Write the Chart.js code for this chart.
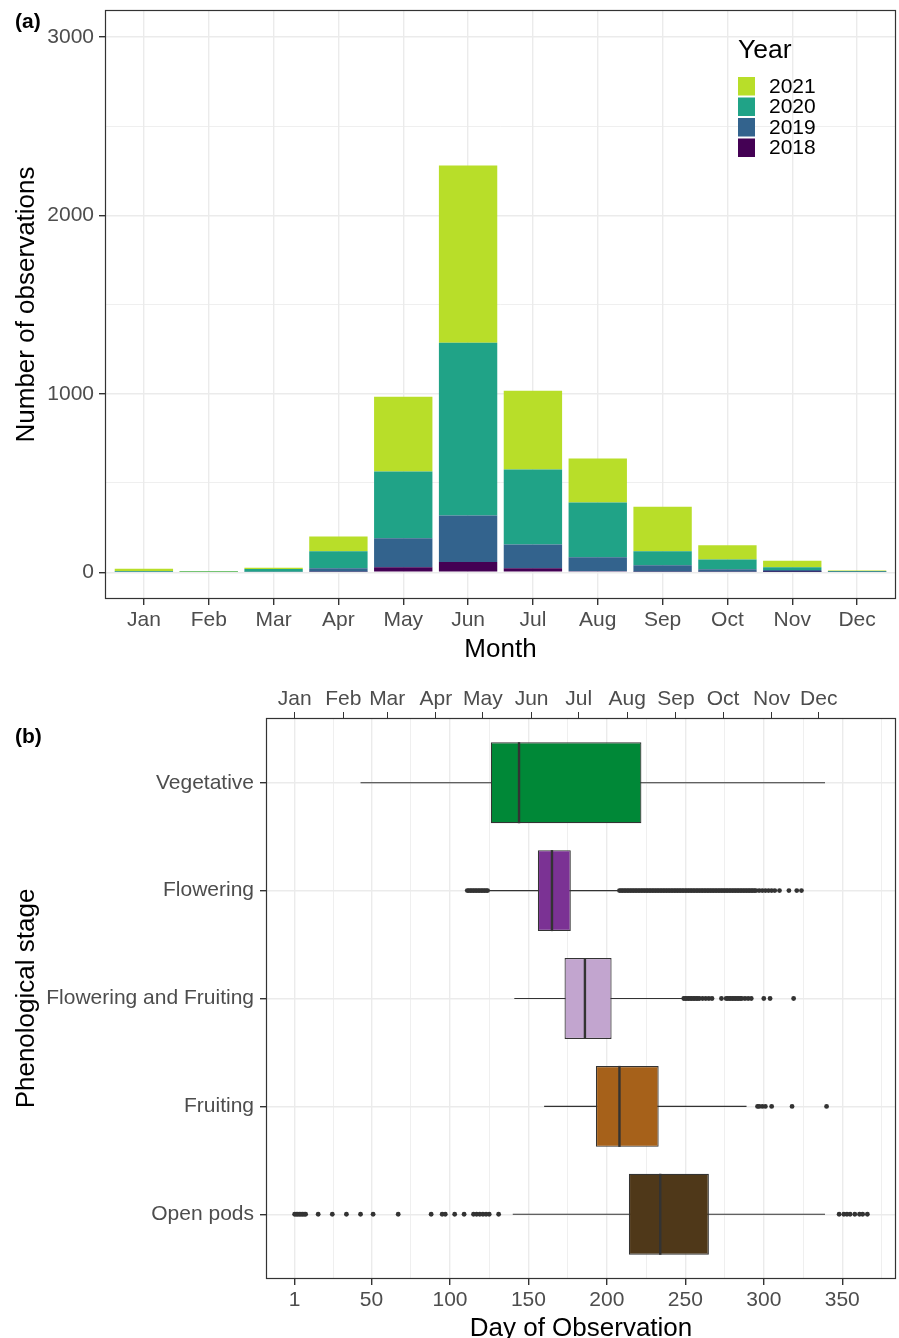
<!DOCTYPE html>
<html>
<head>
<meta charset="utf-8">
<script src="https://cdn.jsdelivr.net/npm/chart.js@4.4.0/dist/chart.umd.min.js"></script>
<style>
body { margin: 0; background: #fff; overflow: hidden; width: 899px; height: 1338px; position: relative; font-family: "Liberation Sans", Arial, sans-serif; }
canvas { position: absolute; left: 0; }
#topChart { top: 0; }
#bottomChart { top: 670px; }
.tag { position: absolute; left: 15px; font-weight: bold; font-size: 21px; line-height: 1; }
</style>
</head>
<body>
<canvas id="topChart" width="899" height="670"></canvas>
<canvas id="bottomChart" width="899" height="680"></canvas>
<div class="tag" style="top:10px">(a)</div>
<div class="tag" style="top:725px">(b)</div>
<script>
// ---- panel (a) data ----
const months = ['Jan', 'Feb', 'Mar', 'Apr', 'May', 'Jun', 'Jul', 'Aug', 'Sep', 'Oct', 'Nov', 'Dec'];
const years = ['2018', '2019', '2020', '2021'];
const obs2018 = [0, 0, 0, 2, 28, 58, 22, 5, 2, 2, 1, 0];
const obs2019 = [2, 0, 3, 20, 162, 260, 134, 79, 37, 15, 12, 1];
const obs2020 = [5, 1, 15, 95, 374, 967, 419, 307, 78, 54, 15, 5];
const obs2021 = [12, 4, 7, 83, 419, 994, 442, 246, 250, 80, 37, 4];
const countTicks = [0, 500, 1000, 1500, 2000, 2500, 3000];
const yearColors = ['#440154', '#33638D', '#20A387', '#B8DE29'];

// ---- panel (b) data ----
const stages = ['Vegetative', 'Flowering', 'Flowering and Fruiting', 'Fruiting', 'Open pods'];
const whiskerLow = [43, 125, 141, 160, 140];
const q1 = [126, 156, 173, 193, 214];
const medians = [144, 165, 186, 208, 234];
const q3 = [222, 177, 203, 233, 265];
const whiskerHigh = [339, 208, 248, 289, 339];
const outVegetative = [];
const outFlowering = [111, 112, 113, 114, 115, 116, 117, 118, 119, 120, 121, 122, 123, 124,
  208, 209, 210, 211, 212, 213, 214, 215, 216, 217, 218, 219, 220, 221, 222, 223, 224, 225,
  226, 227, 228, 229, 230, 231, 232, 233, 234, 235, 236, 237, 238, 239, 240, 241, 242, 243,
  244, 245, 246, 247, 248, 249, 250, 251, 252, 253, 254, 255, 256, 257, 258, 259, 260, 261,
  262, 263, 264, 265, 266, 267, 268, 269, 270, 271, 272, 273, 274, 275, 276, 277, 278, 279,
  280, 281, 282, 283, 284, 285, 286, 287, 288, 289, 290, 291, 292, 293, 294, 295,
  297, 299, 301, 303, 305, 307, 310, 316, 321, 324];
const outFlowFruit = [249, 250, 251, 252, 253, 254, 255, 256, 257, 258, 259, 261, 263, 265, 267,
  273, 276, 277, 278, 279, 280, 281, 282, 283, 284, 285, 286, 288, 290, 292, 300, 304, 319];
const outFruiting = [296, 297, 299, 301, 305, 318, 340];
const outOpenPods = [1, 2, 3, 4, 5, 6, 7, 8, 16, 25, 34, 43, 51, 67, 88, 95, 97, 103, 109,
  115, 117, 119, 121, 123, 125, 131, 348, 351, 353, 355, 358, 361, 363, 366];
const monthStartDays = [1, 32, 60, 91, 121, 152, 182, 213, 244, 274, 305, 335];
const dayTicks = [1, 50, 100, 150, 200, 250, 300, 350];
const dayMinorTicks = [25.5, 75, 125, 175, 225, 275, 325, 375];
const stageColors = ['#008837', '#7B3294', '#C2A5CF', '#A6611A', '#4F3819'];

Chart.defaults.font.family = '"Liberation Sans", Arial, sans-serif';
Chart.defaults.animation = false;
Chart.defaults.plugins.legend.display = false;
Chart.defaults.plugins.tooltip.enabled = false;

const tickFont = { size: 21 };
const titleFont = { size: 26, lineHeight: 1.2 };
const TICK_GREY = '#4D4D4D';
const GRID = '#EBEBEB';
const DARK = '#333333';

// pin the axis box to a fixed size and drop chart.js' label overhang padding
function fixBox(prop, size) {
  return s => {
    s[prop] = size;
    s.paddingTop = 0; s.paddingBottom = 0; s.paddingLeft = 0; s.paddingRight = 0;
  };
}

// dark frame round the plotting panel, as in theme_bw
const panelBorder = {
  id: 'panelBorder',
  afterDraw(chart) {
    const a = chart.chartArea, c = chart.ctx;
    c.save();
    c.strokeStyle = DARK;
    c.lineWidth = 1.2;
    c.strokeRect(a.left + 0.5, a.top + 0.5, a.width - 1, a.height - 1);
    c.restore();
  }
};

// legend inside panel (a), newest year on top
const yearLegend = {
  id: 'yearLegend',
  afterDraw(chart) {
    const c = chart.ctx;
    c.save();
    c.fillStyle = '#000';
    c.textBaseline = 'middle';
    c.font = '26.5px "Liberation Sans", Arial, sans-serif';
    c.fillText('Year', 738, 51);
    c.font = '21px "Liberation Sans", Arial, sans-serif';
    const ds = chart.data.datasets.slice().reverse();
    ds.forEach((d, i) => {
      const y = 77 + i * 20.5;
      c.fillStyle = d.backgroundColor;
      c.fillRect(738, y, 17, 18.5);
      c.fillStyle = '#000';
      c.fillText(d.label, 769, y + 10);
    });
    c.restore();
  }
};

const yearCounts = [obs2018, obs2019, obs2020, obs2021];

const topChart = new Chart(document.getElementById('topChart'), {
  type: 'bar',
  data: {
    datasets: years.map((yr, k) => ({
      label: yr,
      data: yearCounts[k].map((v, i) => ({ x: i + 1, y: v })),
      backgroundColor: yearColors[k],
      categoryPercentage: 0.9,
      barPercentage: 1,
      borderWidth: 0
    }))
  },
  options: {
    responsive: false,
    layout: { autoPadding: false, padding: { top: 10, right: 3, left: 0, bottom: 0 } },
    scales: {
      x: {
        type: 'linear',
        min: 0.4,
        max: 12.6,
        offset: false,
        stacked: true,
        afterBuildTicks: s => { s.ticks = months.map((m, i) => ({ value: i + 1 })); },
        afterFit: fixBox('height', 71),
        ticks: { callback: (v, i) => months[i], font: tickFont, color: TICK_GREY, autoSkip: false, maxRotation: 0, padding: 3 },
        grid: { offset: false, color: GRID, lineWidth: 1.4, tickColor: DARK, tickLength: 6 },
        border: { display: false },
        title: { display: true, text: 'Month', font: titleFont, color: '#000', padding: { top: 0, bottom: 5 } }
      },
      y: {
        type: 'linear',
        min: -150,
        max: 3150,
        offset: false,
        stacked: true,
        afterBuildTicks: s => { s.ticks = countTicks.map(v => ({ value: v })); },
        afterFit: fixBox('width', 105),
        ticks: { callback: v => (v % 1000 === 0 ? String(v) : ''), font: tickFont, color: TICK_GREY, padding: 5 },
        grid: {
          offset: false,
          color: GRID,
          lineWidth: ctx => (ctx.tick && ctx.tick.value % 1000 === 0 ? 1.4 : 0.8),
          tickColor: ctx => (ctx.tick && ctx.tick.value % 1000 === 0 ? DARK : 'rgba(0,0,0,0)'),
          tickLength: 6
        },
        border: { display: false },
        title: { display: true, text: 'Number of observations', font: titleFont, color: '#000', padding: { top: 11, bottom: 0 } }
      }
    }
  },
  plugins: [panelBorder, yearLegend]
});

const outlierLists = [outVegetative, outFlowering, outFlowFruit, outFruiting, outOpenPods];
const isMajorDay = v => dayTicks.includes(v);

const bottomChart = new Chart(document.getElementById('bottomChart'), {
  type: 'bar',
  data: {
    datasets: [
      {
        type: 'bar',
        label: 'box',
        indexAxis: 'y',
        grouped: false,
        data: stages.map((s, i) => ({ y: i + 1, x: [q1[i], q3[i]] })),
        backgroundColor: stageColors,
        borderColor: DARK,
        borderWidth: 1.2,
        borderSkipped: false,
        categoryPercentage: 0.75,
        barPercentage: 1,
        order: 2
      },
      {
        type: 'bar',
        label: 'whisker',
        indexAxis: 'y',
        grouped: false,
        data: stages.map((s, i) => ({ y: i + 1, x: [whiskerLow[i], whiskerHigh[i]] })),
        backgroundColor: DARK,
        maxBarThickness: 1.2,
        order: 3
      },
      {
        type: 'scatter',
        label: 'median',
        data: medians.map((m, i) => ({ x: m, y: i + 1 })),
        pointStyle: 'line',
        pointRotation: 90,
        pointRadius: 40.5,
        pointBorderWidth: 2.4,
        pointBorderColor: DARK,
        order: 1
      },
      {
        type: 'scatter',
        label: 'outliers',
        data: outlierLists.flatMap((list, i) => list.map(d => ({ x: d, y: i + 1 }))),
        pointRadius: 2.4,
        pointBackgroundColor: DARK,
        pointBorderWidth: 0,
        order: 0
      }
    ]
  },
  options: {
    responsive: false,
    layout: { autoPadding: false, padding: { top: 0, right: 3, left: 0, bottom: 0 } },
    scales: {
      x: {
        type: 'linear',
        position: 'bottom',
        min: -17.25,
        max: 384.25,
        offset: false,
        beginAtZero: false,
        afterBuildTicks: s => { s.ticks = dayTicks.concat(dayMinorTicks).sort((a, b) => a - b).map(v => ({ value: v })); },
        afterFit: fixBox('height', 71),
        ticks: { callback: v => (isMajorDay(v) ? String(v) : ''), font: tickFont, color: TICK_GREY, autoSkip: false, maxRotation: 0, padding: 3 },
        grid: {
          offset: false,
          color: GRID,
          lineWidth: ctx => (ctx.tick && isMajorDay(ctx.tick.value) ? 1.4 : 0.8),
          tickColor: ctx => (ctx.tick && isMajorDay(ctx.tick.value) ? DARK : 'rgba(0,0,0,0)'),
          tickLength: 6
        },
        border: { display: false },
        title: { display: true, text: 'Day of Observation', font: titleFont, color: '#000', padding: { top: 0, bottom: 6 } }
      },
      x2: {
        axis: 'x',
        type: 'linear',
        position: 'top',
        min: -17.25,
        max: 384.25,
        offset: false,
        afterBuildTicks: s => { s.ticks = monthStartDays.map(v => ({ value: v })); },
        afterFit: fixBox('height', 48),
        ticks: { callback: (v, i) => months[i], font: tickFont, color: TICK_GREY, autoSkip: false, maxRotation: 0, padding: 0 },
        grid: { offset: false, drawOnChartArea: false, tickColor: DARK, tickLength: 6 },
        border: { display: false }
      },
      y: {
        type: 'linear',
        min: 0.4,
        max: 5.6,
        reverse: true,
        offset: false,
        beginAtZero: false,
        afterBuildTicks: s => { s.ticks = stages.map((st, i) => ({ value: i + 1 })); },
        afterFit: fixBox('width', 266),
        ticks: { callback: (v, i) => stages[i], font: tickFont, color: TICK_GREY, autoSkip: false, padding: 6 },
        grid: { offset: false, color: GRID, lineWidth: 1.4, tickColor: DARK, tickLength: 6 },
        border: { display: false },
        title: { display: true, text: 'Phenological stage', font: titleFont, color: '#000', padding: { top: 11, bottom: 0 } }
      }
    }
  },
  plugins: [panelBorder]
});
</script>
</body>
</html>
